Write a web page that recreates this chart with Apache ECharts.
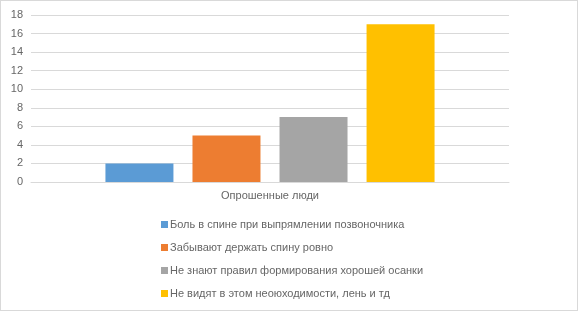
<!DOCTYPE html>
<html>
<head>
<meta charset="utf-8">
<script src="https://cdn.jsdelivr.net/npm/echarts@6/dist/echarts.min.js"></script>
<style>
  html, body { margin: 0; padding: 0; background: #fff; }
  #wrap { width: 576px; height: 309px; border: 1px solid #d9d9d9; }
  #chart { width: 576px; height: 309px; }
</style>
</head>
<body>
<div id="wrap"><div id="chart"></div></div>
<script>
var categories = ['Опрошенные люди'];
var seriesNames = [
    'Боль в спине при выпрямлении позвоночника',
    'Забывают держать спину ровно',
    'Не знают правил формирования хорошей осанки',
    'Не видят в этом неоюходимости, лень и тд'
];
var seriesValues = [[2], [5], [7], [17]];
var colors = ['#5b9bd5', '#ed7d31', '#a5a5a5', '#ffc000'];

var chart = echarts.init(document.getElementById('chart'));
var series = [];
seriesNames.forEach(function (name, i) {
    series.push({
        name: name,
        type: 'bar',
        barWidth: 68,
        barGap: '28%',
        itemStyle: {color: colors[i]},
        data: seriesValues[i]
    });
});

var option = {
    animation: false,
    color: colors,
    textStyle: {fontFamily: 'Liberation Sans, Arial, sans-serif'},
    grid: {
        left: 30,
        right: 68,
        top: 14,
        bottom: 128
    },
    legend: {
        orient: 'vertical',
        left: 155,
        top: 212,
        itemWidth: 7,
        itemHeight: 7,
        itemGap: 10,
        icon: 'rect',
        textStyle: {color: '#666666', fontSize: 11, lineHeight: 13, padding: [0, 0, 0, -3]},
        data: seriesNames
    },
    xAxis: {
        type: 'category',
        data: categories,
        axisTick: {show: false},
        axisLine: {lineStyle: {color: '#d9d9d9'}},
        axisLabel: {color: '#666666', fontSize: 11, margin: 8}
    },
    yAxis: {
        type: 'value',
        min: 0,
        max: 18,
        interval: 2,
        axisLine: {show: false},
        axisTick: {show: false},
        splitLine: {lineStyle: {color: '#d9d9d9'}},
        axisLabel: {color: '#666666', fontSize: 11, margin: 8}
    },
    series: series
};
chart.setOption(option);
</script>
</body>
</html>
